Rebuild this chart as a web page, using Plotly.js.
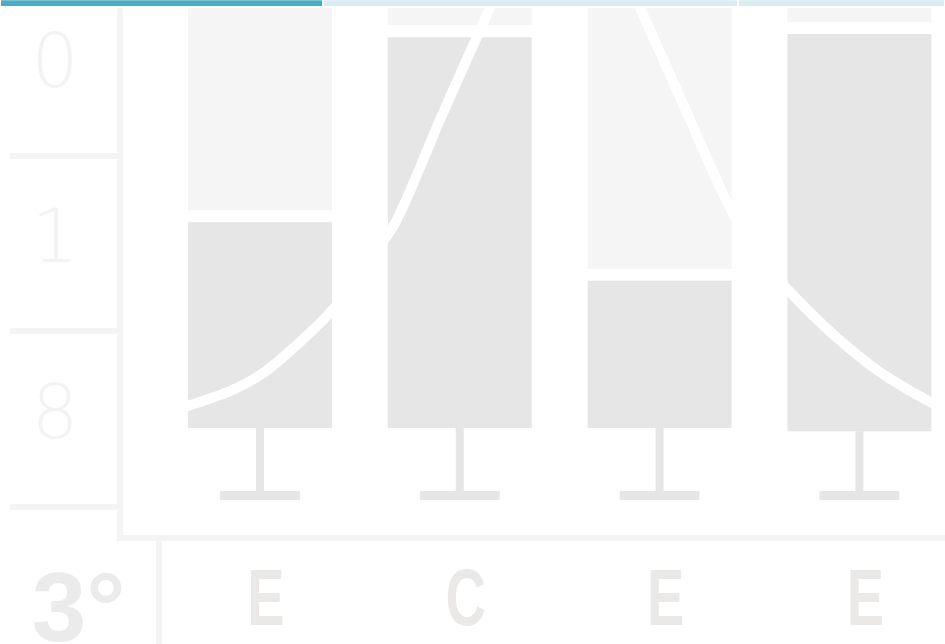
<!DOCTYPE html>
<html>
<head>
<meta charset="utf-8">
<script src="https://cdn.plot.ly/plotly-3.0.1.min.js"></script>
<style>
html,body{margin:0;padding:0;background:#fff;}
#chart{width:945px;height:644px;}
#chart g.xtick{transform-box:fill-box;transform-origin:50% 50%;transform:scaleX(0.7);}
</style>
</head>
<body>
<div id="chart"></div>
<script>
// ---- data ----
const categories = ["E", "C", "E", "E"];
const catIndex = [0, 1, 2, 3];
const lowerBase = [20.3, 20.3, 20.3, 19.7];
const lowerTop = [60.5, 95.6, 49.4, 96.2];
const upperTop = [110, 110, 110, 110];
const whiskerLow = [7.5, 7.5, 7.5, 7.5];

const curveX = [-0.425, -0.360, -0.150, 0.015, 0.185, 0.360, 0.511, 0.671, 0.901, 1.151, 1.301, 1.527, 1.752, 1.902, 2.117, 2.357, 2.503, 2.643, 2.868, 3.103, 3.358, 3.453];
const curveY = [23.7, 24.5, 27.3, 30.7, 36.1, 42.6, 50.3, 58.8, 78.8, 100.0, 112.0, 122.4, 112.0, 100.0, 81.8, 61.7, 52.6, 46.5, 38.1, 30.9, 25.2, 23.7];

const rowLabels = ["0", "1", "8"];
const rowIndex = [0, 1, 2];
const bottomLabel = ["3°"];
const stripValues = [323, 415, 207];

// ---- derived ----
const lowerHeight = lowerTop.map((t, i) => -(t - lowerBase[i]));
const upperHeight = upperTop.map((t, i) => t - lowerTop[i]);
const whiskerLen = lowerBase.map((b, i) => b - whiskerLow[i]);
const zeros = lowerBase.map(() => 0);
const stripBase = stripValues.map((v, i) => stripValues.slice(0, i).reduce((a, b) => a + b, 0));

const LIGHT = '#f4f4f4';
const MID = '#e6e6e6';

const traces = [
  { type: 'bar', x: catIndex, y: lowerHeight, base: lowerTop, width: 0.7207,
    marker: { color: MID, line: { width: 0 } },
    error_y: { type: 'data', symmetric: false, array: zeros, arrayminus: whiskerLen,
               width: 0, thickness: 8, color: MID },
    xaxis: 'x', yaxis: 'y' },
  { type: 'bar', x: catIndex, y: upperHeight, base: lowerTop, width: 0.781,
    marker: { color: '#f5f5f5', line: { color: '#ffffff', width: 12 } }, xaxis: 'x', yaxis: 'y' },
  { type: 'scatter', mode: 'markers', x: catIndex, y: whiskerLow,
    marker: { symbol: 'line-ew', size: 57, color: MID, line: { color: MID, width: 9 } },
    xaxis: 'x', yaxis: 'y' },
  { type: 'scatter', mode: 'lines', x: curveX, y: curveY,
    line: { color: '#ffffff', width: 10, shape: 'spline', smoothing: 0.8 }, xaxis: 'x', yaxis: 'y' },
  { type: 'scatter', mode: 'text', x: [0, 0, 0], y: rowIndex, text: rowLabels,
    textposition: 'middle center',
    textfont: { family: 'DejaVu Sans', size: 74, color: '#f3f3f3', weight: 200 },
    xaxis: 'x2', yaxis: 'y2' },
  { type: 'bar', orientation: 'h', x: stripValues, base: stripBase, y: [0, 0, 0], width: 1,
    marker: { color: ['#4aacc5', '#d9edf3', '#d9edf3'], line: { color: '#ffffff', width: 2 } },
    xaxis: 'x3', yaxis: 'y3' },
  { type: 'scatter', mode: 'markers', x: [], y: [], xaxis: 'x4', yaxis: 'y4' }
];

const layout = {
  width: 945, height: 644,
  margin: { l: 0, r: 0, t: 0, b: 0, pad: 0 },
  paper_bgcolor: '#ffffff', plot_bgcolor: 'rgba(0,0,0,0)',
  showlegend: false, barmode: 'overlay', hovermode: false,
  xaxis: { domain: [123 / 945, 1], range: [-0.6857, 3.4284], anchor: 'y',
    showline: true, linewidth: 6, linecolor: LIGHT, showgrid: false, zeroline: false,
    ticks: '', tickvals: catIndex, ticktext: categories, ticklabelstandoff: -12,
    ticklabelshift: 6, ticklabeloverflow: 'allow',
    tickfont: { family: 'Liberation Sans, Arial, sans-serif', size: 80, weight: 'bold', color: '#ebe9e8' } },
  yaxis: { domain: [109 / 644, 636 / 644], range: [0, 100], anchor: 'x',
    showline: true, linewidth: 6, linecolor: LIGHT, showgrid: false, zeroline: false,
    ticks: '', showticklabels: false },
  xaxis2: { domain: [10 / 945, 117 / 945], range: [-45, 62], anchor: 'y2', visible: false },
  yaxis2: { domain: [109 / 644, 636 / 644], range: [2.66, -0.34375], anchor: 'x2',
    showgrid: true, gridcolor: LIGHT, gridwidth: 6, tickvals: [0.5, 1.5, 2.5],
    showticklabels: false, ticks: '', zeroline: false, showline: false },
  xaxis3: { domain: [0, 1], range: [0, 945], anchor: 'y3', visible: false },
  yaxis3: { domain: [637 / 644, 1], range: [-0.5, 0.4], anchor: 'x3', visible: false },
  xaxis4: { domain: [162 / 945, 1], range: [0, 1], anchor: 'y4', visible: false },
  yaxis4: { domain: [0, 103 / 644], range: [-0.359, 0.641], anchor: 'x4',
    showline: true, linewidth: 6, linecolor: LIGHT, showgrid: false, zeroline: false,
    ticks: '', tickvals: [0], ticktext: bottomLabel, ticklabelstandoff: 11,
    ticklabeloverflow: 'allow',
    tickfont: { family: 'Liberation Sans Narrow, Arial Narrow, sans-serif', size: 98, weight: 'bold', color: '#ebebeb' } }
};

Plotly.newPlot('chart', traces, layout, { staticPlot: true, displayModeBar: false });
</script>
</body>
</html>
